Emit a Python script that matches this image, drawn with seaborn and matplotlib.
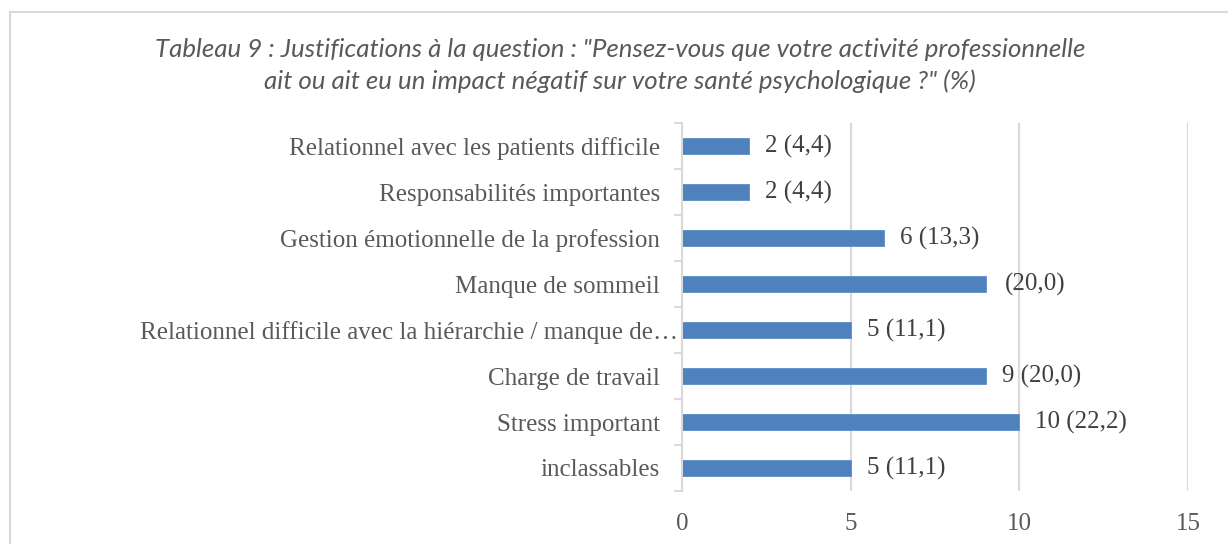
import matplotlib
matplotlib.use("Agg")
import matplotlib.pyplot as plt
from matplotlib.patches import Rectangle
from matplotlib.transforms import ScaledTranslation
import seaborn as sns
import pandas as pd

categories = [
    "Relationnel avec les patients difficile",
    "Responsabilités importantes",
    "Gestion émotionnelle de la profession",
    "Manque de sommeil",
    "Relationnel difficile avec la hiérarchie / manque de…",
    "Charge de travail",
    "Stress important",
    "inclassables",
]
counts = [2, 2, 6, 9, 5, 9, 10, 5]
percent_labels = ["2 (4,4)", "2 (4,4)", "6 (13,3)", "(20,0)", "5 (11,1)",
                  "9 (20,0)", "10 (22,2)", "5 (11,1)"]
x_ticks = [0, 5, 10, 15]
title_lines = [
    "Tableau 9 : Justifications à la question : \"Pensez-vous que votre activité professionnelle",
    "ait ou ait eu un impact négatif sur votre santé psychologique ?\" (%)",
]

sns.set_style("white")
plt.rcParams["font.family"] = ["Liberation Serif", "DejaVu Serif"]

df = pd.DataFrame({"cat": categories, "n": counts})

fig = plt.figure(figsize=(12.28, 5.44), dpi=100)
ax = fig.add_axes([682 / 1228, 1 - 491 / 544, (1188 - 682) / 1228, (491 - 123) / 544])

sns.barplot(data=df, y="cat", x="n", order=categories, color="#4F81BD",
            width=0.35, orient="h", ax=ax, saturation=1, edgecolor="#5B8DC9", linewidth=0.6)

ax.set_xlim(0, 15)
ax.set_ylim(len(categories) - 0.5, -0.5)
ax.set_xticks(x_ticks)
ax.set_xticklabels([str(t) for t in x_ticks])
ax.set_xlabel("")
ax.set_ylabel("")

grid_c = "#D9D9D9"
ax.xaxis.grid(True, color=grid_c, linewidth=1.5)
ax.set_axisbelow(True)
for s in ["top", "right", "bottom"]:
    ax.spines[s].set_visible(False)
ax.spines["left"].set_color(grid_c)
ax.spines["left"].set_linewidth(1.5)

ax.tick_params(axis="x", length=0, pad=16, labelsize=18, labelcolor="#595959")
ax.tick_params(axis="y", which="major", length=0, pad=16, labelsize=18, labelcolor="#595959")
ax.set_yticks([i + 0.5 for i in range(-1, len(categories))], minor=True)
ax.tick_params(axis="y", which="minor", length=6, width=1.5, color=grid_c, left=True)

# truncated label sits closer to the axis in the original
for lbl in ax.get_yticklabels():
    if lbl.get_text().endswith("…"):
        lbl.set_transform(lbl.get_transform() + ScaledTranslation(18 / 100, 0, fig.dpi_scale_trans))

for i, (v, lab) in enumerate(zip(counts, percent_labels)):
    off = 11.5 if not lab.startswith("(") else 14
    ax.annotate(lab, xy=(v, i), xytext=(off, 0), textcoords="offset points",
                ha="left", va="center", fontsize=18, color="#404040")

for k, line in enumerate(title_lines):
    fig.text(620 / 1228, 1 - (57 + 32 * k) / 544, line, ha="center", va="baseline",
             fontsize=18.6, style="italic", color="#595959", family=["Lato", "DejaVu Sans"])

fig.add_artist(Rectangle((10 / 1228, -0.2), 1.2, 1 - 12 / 544 + 0.2,
                         transform=fig.transFigure, fill=False, ec=grid_c, lw=1.5))

fig.savefig("out.png", dpi=100)
